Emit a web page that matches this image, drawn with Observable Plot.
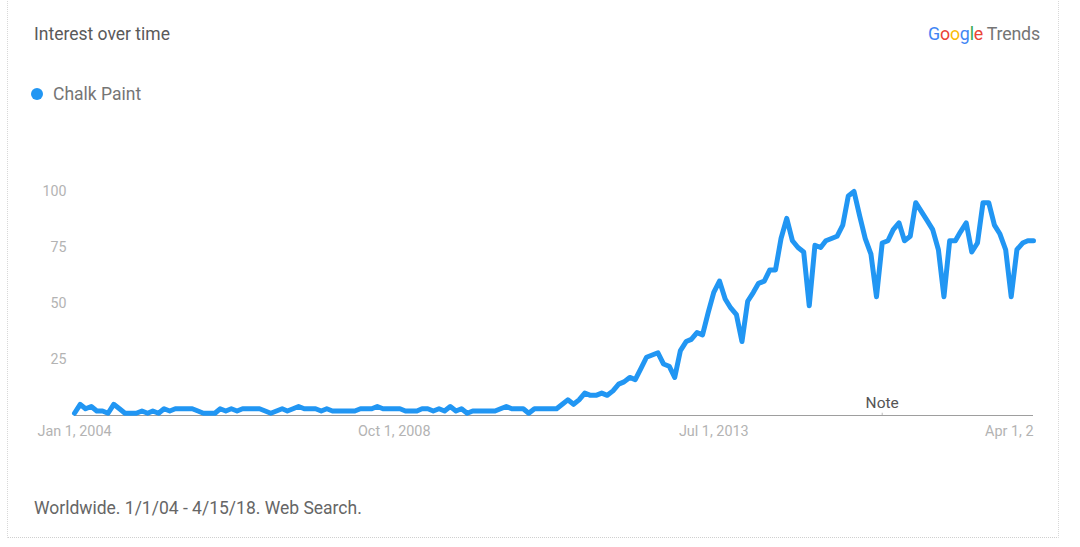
<!DOCTYPE html>
<html>
<head>
<meta charset="utf-8">
<script src="https://cdn.jsdelivr.net/npm/d3@7"></script>
<script src="https://cdn.jsdelivr.net/npm/@observablehq/plot@0.6"></script>
<style>
  html, body { margin: 0; padding: 0; background: #fff; }
  body { width: 1080px; height: 547px; position: relative; overflow: hidden; font-family: Roboto, "Open Sans", sans-serif; }
  #card { position: absolute; left: 7px; top: -2px; width: 1050px; height: 539px; border-left: 1px dotted #d8d8d8; border-right: 1px dotted #d8d8d8; border-bottom: 1px dotted #cfcfcf; }
  #title { position: absolute; left: 34px; top: 24px; font-size: 17.5px; color: #5a5a5a; }
  #logo { position: absolute; left: 928px; top: 23px; font-size: 17.8px; letter-spacing: -0.2px; }
  #legend { position: absolute; left: 31px; top: 84px; font-size: 17.5px; color: #757575; display: flex; align-items: center; }
  #legend .dot { width: 12px; height: 12px; border-radius: 50%; background: #2196f3; margin-right: 10px; }
  #chart { position: absolute; left: 0; top: 150px; }
  #caption { position: absolute; left: 34px; top: 498px; font-size: 17.5px; color: #666; }
</style>
</head>
<body>
<div id="card"></div>
<div id="title">Interest over time</div>
<div id="logo"><span style="color:#4285F4">G</span><span style="color:#EA4335">o</span><span style="color:#FBBC05">o</span><span style="color:#4285F4">g</span><span style="color:#34A853">l</span><span style="color:#EA4335">e</span><span style="color:#757575"> Trends</span></div>
<div id="legend"><span class="dot"></span><span id="seriesName"></span></div>
<div id="chart"></div>
<div id="caption">Worldwide. 1/1/04 - 4/15/18. Web Search.</div>
<script>
const seriesName = "Chalk Paint";
const startMonth = "2004-01-01";
// Monthly interest, Jan 2004 – Apr 2018
const interest = [
  1,5,3,4,2,2,1,5,3,1,1,1,          // 2004
  2,1,2,1,3,2,3,3,3,3,2,1,          // 2005
  1,1,3,2,3,2,3,3,3,3,2,1,          // 2006
  2,3,2,3,4,3,3,3,2,3,2,2,          // 2007
  2,2,2,3,3,3,4,3,3,3,3,2,          // 2008
  2,2,3,3,2,3,2,4,2,3,1,2,          // 2009
  2,2,2,2,3,4,3,3,3,1,3,3,          // 2010
  3,3,3,5,7,5,7,10,9,9,10,9,        // 2011
  11,14,15,17,16,21,26,27,28,23,22,17, // 2012
  29,33,34,37,36,46,55,60,52,48,45,33, // 2013
  51,55,59,60,65,65,79,88,78,75,73,49, // 2014
  76,75,78,79,80,85,98,100,89,79,72,53, // 2015
  77,78,83,86,78,80,95,91,87,83,74,53, // 2016
  78,78,82,86,73,77,95,95,85,81,74,53, // 2017
  74,77,78,78                          // 2018
];
const xTickDates = ["2004-01-01", "2008-10-01", "2013-07-01"];
const xTickLabels = ["Jan 1, 2004", "Oct 1, 2008", "Jul 1, 2013"];
const lastTickDate = "2018-04-01";
const lastTickLabel = "Apr 1, 2"; // shown cut at the right edge in the source
const yTicks = [25, 50, 75, 100];
const noteDate = "2016-01-01";
const noteLabel = "Note";

document.getElementById("seriesName").textContent = seriesName;

const start = new Date(startMonth);
const rows = interest.map((v, i) => ({date: d3.utcMonth.offset(start, i), value: v}));
const tickDates = xTickDates.map(d => new Date(d));
const labelFor = new Map(tickDates.map((d, i) => [+d, xTickLabels[i]]));

const chart = Plot.plot({
  width: 1060,
  height: 300,
  marginLeft: 74,
  marginRight: 27,
  marginTop: 41,
  marginBottom: 35,
  style: {fontFamily: "Roboto, sans-serif", background: "transparent"},
  x: {type: "utc", domain: [start, d3.utcMonth.offset(start, interest.length - 1)]},
  y: {domain: [0, 100]},
  marks: [
    Plot.axisY({ticks: yTicks, tickSize: 0, tickPadding: 8, fontSize: 14.2, fill: "#b3b3b3", label: null}),
    Plot.axisX({ticks: tickDates, tickSize: 0, tickPadding: 10, fontSize: 14.4, fill: "#b3b3b3", label: null,
      tickFormat: d => labelFor.get(+d)}),
    Plot.text([{date: new Date(lastTickDate), label: lastTickLabel}], {x: "date", y: () => 0, text: "label",
      textAnchor: "end", dy: 16, dx: 0, fontSize: 14.4, fill: "#b3b3b3"}),
    Plot.ruleY([0], {stroke: "#9e9e9e", strokeWidth: 1}),
    Plot.ruleX([new Date(noteDate)], {y1: 0, y2: 1, stroke: "#bbb", strokeWidth: 1}),
    Plot.text([{date: new Date(noteDate), label: noteLabel}], {x: "date", y: () => 0, text: "label", dy: -12, fontSize: 15.5, fill: "#555"}),
    Plot.line(rows, {x: "date", y: "value", stroke: "#2196f3", strokeWidth: 5, strokeLinejoin: "round", strokeLinecap: "round"})
  ]
});
document.getElementById("chart").appendChild(chart);
</script>
</body>
</html>
